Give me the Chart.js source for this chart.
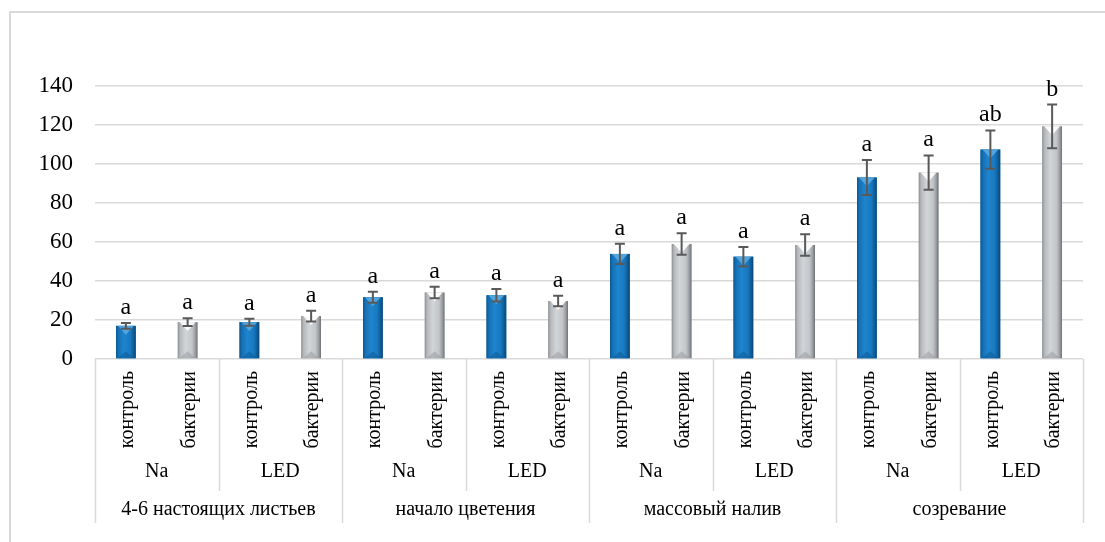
<!DOCTYPE html>
<html>
<head>
<meta charset="utf-8">
<script src="https://cdn.jsdelivr.net/npm/chart.js@4.4.1/dist/chart.umd.min.js"></script>
<style>
  html, body { margin: 0; padding: 0; background: #fff; }
  #wrap { width: 1105px; height: 542px; }
</style>
</head>
<body>
<div id="wrap"><canvas id="chart"></canvas></div>
<script>
// growth stages, light sources and treatments (outer -> inner axis levels)
const stages = ["4-6 настоящих листьев", "начало цветения", "массовый налив", "созревание"];
const lights = ["Na", "LED"];
const treatments = ["контроль", "бактерии"];

// one value per stage x light, in order Na, LED for each stage
const controlValues = [17.0, 18.9, 31.7, 32.7, 53.9, 52.5, 93.1, 107.4];
const bacteriaValues = [18.9, 22.0, 34.1, 29.7, 59.0, 58.5, 95.6, 119.3];
const controlErrors = [1.5, 1.8, 2.8, 3.2, 5.2, 5.0, 9.0, 9.8];
const bacteriaErrors = [2.0, 2.8, 3.0, 2.7, 5.5, 5.5, 8.8, 11.2];
const controlLetters = ["a", "a", "a", "a", "a", "a", "a", "ab"];
const bacteriaLetters = ["a", "a", "a", "a", "a", "a", "a", "b"];

const yTicks = [0, 20, 40, 60, 80, 100, 120, 140];

// flatten into one bar per category
const labels = [], values = [], errors = [], letters = [], kinds = [];
for (let i = 0; i < controlValues.length; i++) {
    labels.push(treatments[0], treatments[1]);
    values.push(controlValues[i], bacteriaValues[i]);
    errors.push(controlErrors[i], bacteriaErrors[i]);
    letters.push(controlLetters[i], bacteriaLetters[i]);
    kinds.push(0, 1);
}

const FONT = "'Liberation Serif', 'Times New Roman', serif";
const GRID = "#D9D9D9";

const bevels = [
    { stops: ["#0D558C", "#1570B5", "#1E85CE", "#1879C0", "#0F5E9A", "#0A4675"], top: "#5AA8DE", bottom: "#0C5389" },
    { stops: ["#8A8E92", "#B6B9BC", "#D2D5D7", "#C3C6C9", "#9B9FA3", "#6E7277"], top: "#FFFFFF", bottom: "#8E9296" },
];

const excelExtras = {
    id: "excelExtras",
    beforeDraw(chart) {
        const c = chart.ctx;
        c.save();
        c.strokeStyle = GRID;
        c.lineWidth = 2;
        c.beginPath();
        c.moveTo(10, 542);
        c.lineTo(10, 12);
        c.lineTo(1105, 12);
        c.stroke();
        c.restore();
    },
    afterDatasetsDraw(chart) {
        const c = chart.ctx;
        const y = chart.scales.y;
        const meta = chart.getDatasetMeta(0);
        c.save();
        meta.data.forEach((bar, i) => {
            const b = bevels[kinds[i]];
            const w = bar.width, left = bar.x - w / 2, top = bar.y, base = bar.base;
            const g = c.createLinearGradient(left, 0, left + w, 0);
            [0, 0.12, 0.4, 0.72, 0.88, 1].forEach((p, k) => g.addColorStop(p, b.stops[k]));
            c.fillStyle = g;
            c.fillRect(left, top, w, base - top);
            // top bevel
            const th = Math.min(w * 0.45, (base - top) / 2);
            c.fillStyle = b.top;
            c.globalAlpha = 0.9;
            c.beginPath();
            c.moveTo(left + 2, top);
            c.lineTo(left + w - 2, top);
            c.lineTo(bar.x, top + th);
            c.closePath();
            c.fill();
            // bottom bevel
            c.fillStyle = b.bottom;
            c.globalAlpha = 0.45;
            c.beginPath();
            c.moveTo(left + 2, base);
            c.lineTo(left + w - 2, base);
            c.lineTo(bar.x, base - th * 0.8);
            c.closePath();
            c.fill();
            c.globalAlpha = 1;

            // error bar
            const hi = y.getPixelForValue(values[i] + errors[i]);
            const lo = y.getPixelForValue(values[i] - errors[i]);
            c.strokeStyle = "#595959";
            c.lineWidth = 2;
            c.beginPath();
            c.moveTo(bar.x, hi); c.lineTo(bar.x, lo);
            c.moveTo(bar.x - 5, hi); c.lineTo(bar.x + 5, hi);
            c.moveTo(bar.x - 5, lo); c.lineTo(bar.x + 5, lo);
            c.stroke();

            // significance letter
            c.fillStyle = "#000";
            c.font = "24px " + FONT;
            c.textAlign = "center";
            c.textBaseline = "alphabetic";
            c.fillText(letters[i], bar.x, hi - 9);
        });
        c.restore();
    },
    afterDraw(chart) {
        const c = chart.ctx;
        const x = chart.scales.x;
        const area = chart.chartArea;
        const step = x.getPixelForValue(1) - x.getPixelForValue(0);
        const edge = i => x.getPixelForValue(i) - step / 2;
        c.save();
        c.fillStyle = "#000";
        c.font = "20px " + FONT;
        // treatment labels, rotated
        labels.forEach((t, i) => {
            c.save();
            c.translate(x.getPixelForValue(i) + 2, area.bottom + 12);
            c.rotate(-Math.PI / 2);
            c.textAlign = "right";
            c.textBaseline = "middle";
            c.fillText(t, 0, 0);
            c.restore();
        });
        c.textAlign = "center";
        c.textBaseline = "middle";
        // light source labels
        for (let p = 0; p < labels.length / 2; p++) {
            c.fillText(lights[p % 2], (edge(p * 2) + edge(p * 2 + 2)) / 2, area.bottom + 113);
        }
        // stage labels
        stages.forEach((s, g) => {
            c.fillText(s, (edge(g * 4) + edge(g * 4 + 4)) / 2, area.bottom + 151);
        });
        // separators
        c.strokeStyle = GRID;
        c.lineWidth = 1.5;
        c.beginPath();
        for (let i = 0; i <= labels.length; i += 2) {
            const px = Math.round(edge(i)) + 0.5;
            c.moveTo(px, area.bottom);
            c.lineTo(px, area.bottom + (i % 4 === 0 ? 164 : 132));
        }
        c.stroke();
        c.restore();
    },
};

new Chart(document.getElementById("chart"), {
    type: "bar",
    data: {
        labels: labels,
        datasets: [{
            data: values,
            backgroundColor: kinds.map(k => (k === 0 ? "#1879C0" : "#C3C6C9")),
            barPercentage: 0.32,
            categoryPercentage: 1,
        }],
    },
    options: {
        responsive: true,
        maintainAspectRatio: false,
        animation: false,
        layout: { padding: { top: 86, right: 22, left: 0, bottom: 0 } },
        plugins: {
            legend: { display: false },
            tooltip: { enabled: false },
        },
        scales: {
            x: {
                grid: { display: false },
                border: { display: false },
                ticks: { display: false },
                afterFit: s => { s.height = 183; },
            },
            y: {
                min: 0,
                max: 140,
                afterBuildTicks: s => { s.ticks = yTicks.map(v => ({ value: v })); },
                grid: { color: GRID, lineWidth: 1.5, drawTicks: false },
                border: { display: false },
                ticks: {
                    color: "#000",
                    padding: 22,
                    font: { family: FONT, size: 23 },
                },
                afterFit: s => { s.width = 95; },
            },
        },
    },
    plugins: [excelExtras],
});
</script>
</body>
</html>
